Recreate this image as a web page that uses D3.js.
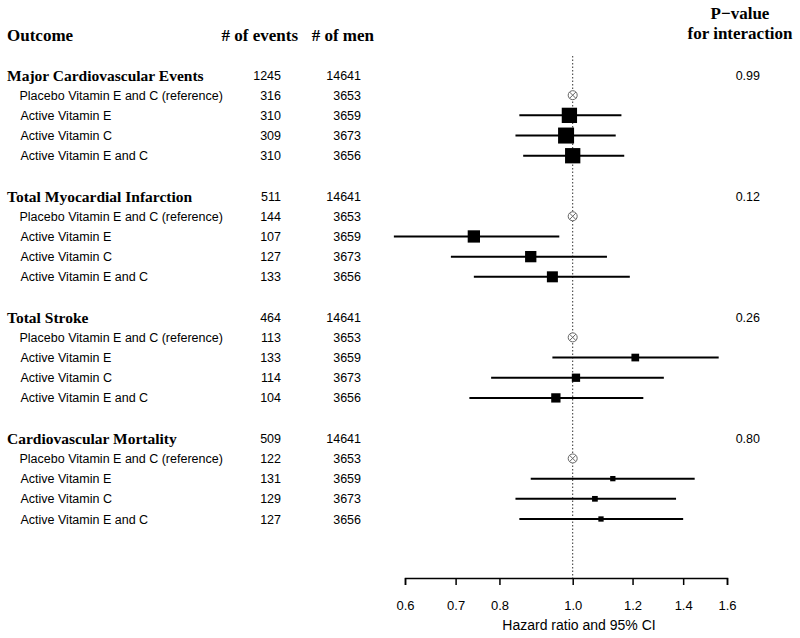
<!DOCTYPE html>
<html>
<head>
<meta charset="utf-8">
<script src="https://cdn.jsdelivr.net/npm/d3@7"></script>
<style>
body { margin: 0; background: #fff; }
svg { display: block; }
</style>
</head>
<body>
<svg id="chart" width="800" height="638"></svg>
<script>
// ---- data ----
const groups = ["Major Cardiovascular Events", "Total Myocardial Infarction", "Total Stroke", "Cardiovascular Mortality"];
const groupEvents = [1245, 511, 464, 509];
const groupMen = [14641, 14641, 14641, 14641];
const pValues = ["0.99", "0.12", "0.26", "0.80"];
const arms = ["Placebo Vitamin E and C (reference)", "Active Vitamin E", "Active Vitamin C", "Active Vitamin E and C"];
const armEvents = [
  [316, 310, 309, 310],
  [144, 107, 127, 133],
  [113, 133, 114, 104],
  [122, 131, 129, 127]
];
const armMen = [
  [3653, 3659, 3673, 3656],
  [3653, 3659, 3673, 3656],
  [3653, 3659, 3673, 3656],
  [3653, 3659, 3673, 3656]
];
// hazard ratios (reference arm = 1)
const hr = [
  [1.0, 0.99, 0.98, 1.00],
  [1.0, 0.74, 0.88, 0.94],
  [1.0, 1.21, 1.01, 0.95],
  [1.0, 1.13, 1.07, 1.09]
];
const lower = [
  [null, 0.85, 0.84, 0.86],
  [null, 0.58, 0.69, 0.74],
  [null, 0.94, 0.78, 0.73],
  [null, 0.88, 0.84, 0.85]
];
const upper = [
  [null, 1.16, 1.14, 1.17],
  [null, 0.96, 1.11, 1.19],
  [null, 1.56, 1.32, 1.24],
  [null, 1.45, 1.37, 1.40]
];
// relative weight of each estimate (box size)
const weights = [
  [null, 15.3, 16, 15.3],
  [null, 12.3, 11.3, 11],
  [null, 7.7, 8.3, 9.3],
  [null, 5.3, 5.7, 5.3]
];
const tickValues = [0.6, 0.7, 0.8, 1.0, 1.2, 1.4, 1.6];

// ---- layout ----
const svg = d3.select("#chart");
const serif = "'Liberation Serif', 'Times New Roman', serif";
const sans = "'Liberation Sans', Arial, sans-serif";
const sansSize = 12.5;

const x = d3.scaleLog().domain([0.6, 1.6]).range([405, 727]);
const nRows = 23;
const y = d3.scaleLinear().domain([0, nRows - 1]).range([75, 519]);
const boxScale = d3.scaleLinear().domain([0, 16]).range([0, 16]);

// header
function hdr(xp, yp, anchor, t) {
  svg.append("text").attr("x", xp).attr("y", yp).attr("text-anchor", anchor).attr("font-family", serif)
    .attr("font-weight", "bold").attr("font-size", 17).text(t);
}
hdr(7, 41, "start", "Outcome");
hdr(298, 41, "end", "# of events");
hdr(374, 41, "end", "# of men");
hdr(740, 19, "middle", "P\u2212value");
hdr(740, 39, "middle", "for interaction");

// reference line
svg.append("line").attr("x1", x(1)).attr("x2", x(1)).attr("y1", 56).attr("y2", 578)
  .attr("stroke", "#333").attr("stroke-width", 1).attr("stroke-dasharray", "1.5,2");

groups.forEach((g, gi) => {
  const r0 = gi * 6;
  const gy = y(r0);
  svg.append("text").attr("x", 7).attr("y", gy + 5.5).attr("font-family", serif).attr("font-weight", "bold")
    .attr("font-size", 15.5).text(g);
  svg.append("text").attr("x", 281).attr("y", gy + 4.5).attr("text-anchor", "end").attr("font-family", sans)
    .attr("font-size", sansSize).text(groupEvents[gi]);
  svg.append("text").attr("x", 361).attr("y", gy + 4.5).attr("text-anchor", "end").attr("font-family", sans)
    .attr("font-size", sansSize).text(groupMen[gi]);
  svg.append("text").attr("x", 760).attr("y", gy + 4.5).attr("text-anchor", "end").attr("font-family", sans)
    .attr("font-size", sansSize).text(pValues[gi]);

  arms.forEach((a, ai) => {
    const ry = y(r0 + 1 + ai);
    svg.append("text").attr("x", ai === 0 ? 19.5 : 20.5).attr("y", ry + 4.5).attr("font-family", sans)
      .attr("font-size", sansSize).text(a);
    svg.append("text").attr("x", 281).attr("y", ry + 4.5).attr("text-anchor", "end").attr("font-family", sans)
      .attr("font-size", sansSize).text(armEvents[gi][ai]);
    svg.append("text").attr("x", 361).attr("y", ry + 4.5).attr("text-anchor", "end").attr("font-family", sans)
      .attr("font-size", sansSize).text(armMen[gi][ai]);

    const cx = x(hr[gi][ai]);
    if (lower[gi][ai] === null) {
      const gr = svg.append("g").attr("stroke", "#666").attr("stroke-width", 1).attr("fill", "none");
      gr.append("circle").attr("cx", cx).attr("cy", ry).attr("r", 4.5).attr("fill", "#fff");
      const d = 3.2;
      gr.append("line").attr("x1", cx - d).attr("y1", ry - d).attr("x2", cx + d).attr("y2", ry + d);
      gr.append("line").attr("x1", cx - d).attr("y1", ry + d).attr("x2", cx + d).attr("y2", ry - d);
    } else {
      svg.append("line").attr("x1", x(lower[gi][ai])).attr("x2", x(upper[gi][ai]))
        .attr("y1", ry).attr("y2", ry).attr("stroke", "#000").attr("stroke-width", 2);
      const s = boxScale(weights[gi][ai]);
      svg.append("rect").attr("x", cx - s / 2).attr("y", ry - s / 2).attr("width", s).attr("height", s)
        .attr("fill", "#000");
    }
  });
});

// axis
const axis = d3.axisBottom(x).tickValues(tickValues).tickFormat(d3.format(".1f"))
  .tickSize(7).tickSizeOuter(7).tickPadding(16);
const ax = svg.append("g").attr("transform", "translate(0,578)").call(axis);
ax.select(".domain").attr("stroke-width", 1.5);
ax.selectAll(".tick line").attr("stroke-width", 1.5);
ax.selectAll(".tick text").attr("font-family", sans).attr("font-size", 13).attr("fill", "#000");
svg.append("text").attr("x", 579).attr("y", 630).attr("text-anchor", "middle").attr("font-family", sans)
  .attr("font-size", 14).text("Hazard ratio and 95% CI");
</script>
</body>
</html>
